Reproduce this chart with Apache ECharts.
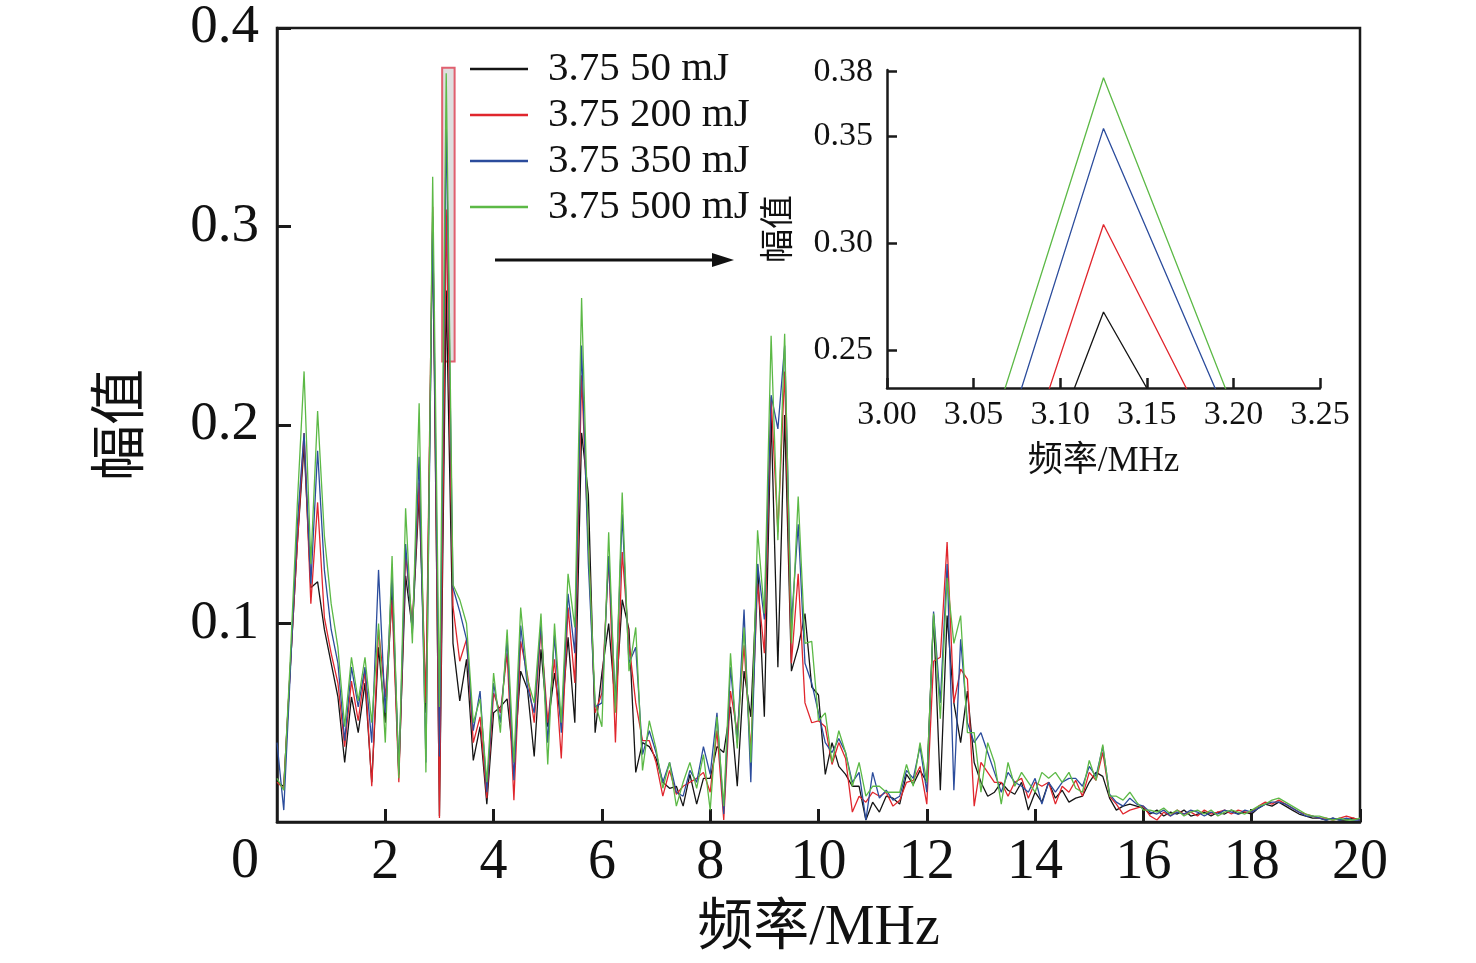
<!DOCTYPE html>
<html>
<head>
<meta charset="utf-8">
<script src="https://cdn.jsdelivr.net/npm/echarts@6/dist/echarts.min.js"></script>
<style>
  html, body { margin: 0; padding: 0; background: #fff; }
  #chart { width: 1476px; height: 963px; }
</style>
</head>
<body>
<div id="chart"></div>
<script>
// frequency grid, MHz (0 ~ 20, step 0.125)
const step = 0.125;
const freq = Array.from({ length: 161 }, (_, i) => i * step);

const names = ["3.75 50 mJ", "3.75 200 mJ", "3.75 350 mJ", "3.75 500 mJ"];
const colors = ["#141414", "#e0262d", "#2b4c9c", "#5cb946"];

// 50 mJ
const amp50 = [
  0.020,0.018,0.080,0.140,0.190,0.118,0.121,0.097,0.080,0.063,
  0.030,0.063,0.045,0.070,0.020,0.088,0.050,0.117,0.024,0.124,
  0.097,0.165,0.055,0.300,0.003,0.2677,0.090,0.061,0.082,0.031,
  0.048,0.009,0.055,0.058,0.062,0.030,0.076,0.067,0.033,0.087,
  0.048,0.075,0.050,0.093,0.050,0.196,0.165,0.045,0.075,0.100,
  0.058,0.112,0.097,0.025,0.040,0.038,0.032,0.020,0.017,0.018,
  0.008,0.024,0.009,0.022,0.022,0.038,0.035,0.058,0.018,0.076,
  0.053,0.130,0.053,0.205,0.078,0.205,0.076,0.088,0.105,0.068,
  0.064,0.024,0.040,0.028,0.024,0.018,0.018,0.001,0.010,0.005,
  0.013,0.012,0.009,0.024,0.019,0.026,0.020,0.104,0.016,0.104,
  0.060,0.040,0.066,0.030,0.020,0.013,0.015,0.020,0.016,0.014,
  0.020,0.006,0.015,0.010,0.020,0.012,0.016,0.010,0.012,0.013,
  0.020,0.025,0.023,0.012,0.006,0.008,0.009,0.008,0.007,0.004,
  0.006,0.003,0.005,0.004,0.006,0.003,0.004,0.005,0.003,0.005,
  0.004,0.006,0.004,0.005,0.004,0.007,0.009,0.008,0.010,0.008,
  0.006,0.004,0.003,0.002,0.002,0.001,0.002,0.001,0.001,0.002,
  0.001
];
// 200 mJ
const amp200 = [
  0.020,0.017,0.080,0.140,0.196,0.110,0.161,0.103,0.085,0.070,
  0.038,0.071,0.051,0.076,0.018,0.097,0.063,0.112,0.020,0.135,
  0.100,0.171,0.060,0.310,0.002,0.3086,0.1086,0.081,0.092,0.040,
  0.053,0.012,0.065,0.055,0.085,0.011,0.091,0.074,0.050,0.097,
  0.050,0.082,0.032,0.108,0.070,0.225,0.140,0.055,0.065,0.133,
  0.040,0.136,0.090,0.060,0.041,0.041,0.030,0.013,0.026,0.014,
  0.018,0.020,0.022,0.025,0.015,0.046,0.001,0.066,0.045,0.089,
  0.035,0.120,0.085,0.214,0.146,0.227,0.080,0.125,0.060,0.050,
  0.051,0.048,0.029,0.040,0.032,0.005,0.013,0.010,0.015,0.013,
  0.015,0.008,0.011,0.020,0.021,0.028,0.009,0.081,0.083,0.141,
  0.060,0.077,0.072,0.008,0.030,0.025,0.020,0.020,0.013,0.020,
  0.022,0.012,0.020,0.018,0.020,0.009,0.018,0.015,0.021,0.013,
  0.025,0.021,0.035,0.013,0.009,0.004,0.006,0.007,0.008,0.003,
  0.001,0.005,0.003,0.006,0.004,0.005,0.003,0.006,0.004,0.005,
  0.006,0.004,0.006,0.005,0.005,0.008,0.010,0.009,0.011,0.009,
  0.007,0.005,0.004,0.003,0.002,0.002,0.001,0.002,0.003,0.002,
  0.001
];
// 350 mJ
const amp350 = [
  0.040,0.006,0.078,0.150,0.196,0.120,0.187,0.127,0.097,0.080,
  0.041,0.078,0.058,0.078,0.040,0.127,0.055,0.125,0.025,0.140,
  0.095,0.184,0.030,0.305,0.033,0.3535,0.118,0.106,0.092,0.046,
  0.066,0.015,0.070,0.050,0.092,0.021,0.099,0.068,0.055,0.100,
  0.040,0.094,0.045,0.115,0.085,0.240,0.130,0.058,0.060,0.134,
  0.060,0.155,0.080,0.088,0.034,0.046,0.035,0.020,0.030,0.015,
  0.013,0.026,0.020,0.038,0.024,0.055,0.004,0.078,0.040,0.107,
  0.020,0.130,0.102,0.215,0.198,0.240,0.100,0.150,0.080,0.070,
  0.055,0.040,0.035,0.042,0.035,0.020,0.025,0.001,0.025,0.012,
  0.016,0.011,0.013,0.026,0.022,0.038,0.015,0.106,0.060,0.130,
  0.016,0.092,0.050,0.040,0.045,0.035,0.025,0.015,0.025,0.020,
  0.018,0.015,0.022,0.009,0.020,0.015,0.020,0.022,0.022,0.018,
  0.028,0.023,0.038,0.014,0.010,0.008,0.012,0.009,0.008,0.005,
  0.004,0.006,0.003,0.005,0.004,0.006,0.005,0.003,0.005,0.004,
  0.006,0.005,0.004,0.006,0.005,0.007,0.009,0.010,0.010,0.009,
  0.007,0.005,0.003,0.003,0.002,0.001,0.002,0.001,0.002,0.001,
  0.001
];
// 500 mJ
const amp500 = [
  0.022,0.016,0.085,0.160,0.227,0.130,0.207,0.144,0.110,0.088,
  0.048,0.083,0.061,0.083,0.050,0.100,0.040,0.134,0.022,0.158,
  0.090,0.211,0.025,0.325,0.058,0.3772,0.1195,0.112,0.100,0.050,
  0.062,0.020,0.075,0.045,0.097,0.030,0.108,0.072,0.060,0.105,
  0.029,0.100,0.050,0.125,0.098,0.264,0.140,0.060,0.048,0.146,
  0.055,0.166,0.076,0.098,0.026,0.051,0.037,0.017,0.030,0.008,
  0.020,0.030,0.017,0.034,0.006,0.053,0.008,0.085,0.037,0.098,
  0.030,0.147,0.105,0.245,0.142,0.246,0.090,0.164,0.090,0.091,
  0.051,0.055,0.030,0.046,0.035,0.018,0.030,0.013,0.018,0.018,
  0.015,0.015,0.015,0.029,0.018,0.040,0.020,0.105,0.052,0.123,
  0.090,0.104,0.045,0.045,0.015,0.040,0.030,0.009,0.030,0.018,
  0.025,0.020,0.015,0.025,0.022,0.025,0.020,0.025,0.017,0.015,
  0.031,0.021,0.039,0.013,0.013,0.011,0.015,0.010,0.006,0.006,
  0.005,0.007,0.004,0.006,0.003,0.005,0.006,0.004,0.006,0.003,
  0.005,0.006,0.005,0.004,0.006,0.008,0.009,0.011,0.012,0.010,
  0.008,0.006,0.004,0.003,0.003,0.002,0.001,0.002,0.001,0.001,
  0.002
];

const amps = [amp50, amp200, amp350, amp500];

// axis ticks
const mainXTicks = [0, 2, 4, 6, 8, 10, 12, 14, 16, 18, 20];
const insetYTicks = [0.25, 0.30, 0.35, 0.38];
const insetXRange = [3.00, 3.25];
const insetYRange = [0.2322, 0.3808];
const zoomBox = [[3.05, 0.232], [3.28, 0.380]];

const serif = "'Liberation Serif','Times New Roman','Noto Sans CJK SC',serif";
const axisColor = "#1a1a1a";

function pairs(vals) {
  return freq.map((f, i) => [f, vals[i]]);
}

const chart = echarts.init(document.getElementById("chart"), null, { renderer: "canvas" });

const series = [];
names.forEach((n, k) => {
  const s = {
    name: n,
    type: "line",
    xAxisIndex: 0,
    yAxisIndex: 0,
    data: pairs(amps[k]),
    showSymbol: false,
    symbol: "none",
    lineStyle: { color: colors[k], width: 1.3 },
    itemStyle: { color: colors[k] },
    z: 3 + k,
    animation: false
  };
  if (k === 3) {
    s.markArea = {
      silent: true,
      itemStyle: { color: "rgba(185,185,185,0.45)", borderColor: "#e0606f", borderWidth: 2 },
      data: [[{ coord: zoomBox[0] }, { coord: zoomBox[1] }]]
    };
  }
  series.push(s);
});
names.forEach((n, k) => {
  series.push({
    name: n,
    type: "line",
    xAxisIndex: 1,
    yAxisIndex: 1,
    data: pairs(amps[k]),
    showSymbol: false,
    symbol: "none",
    clip: true,
    lineStyle: { color: colors[k], width: 1.3 },
    itemStyle: { color: colors[k] },
    z: 3 + k,
    animation: false
  });
});

chart.setOption({
  animation: false,
  backgroundColor: "#fff",
  textStyle: { fontFamily: serif },
  legend: {
    data: names,
    orient: "vertical",
    left: 470,
    top: 47,
    padding: 0,
    itemWidth: 58,
    itemHeight: 2.5,
    itemGap: 2,
    icon: "rect",
    textStyle: { fontFamily: serif, fontSize: 41, color: "#111", lineHeight: 44, padding: [0, 0, 0, 15] }
  },
  grid: [
    { left: 277, right: 116, top: 28, bottom: 141, show: true, borderColor: axisColor, borderWidth: 2.5, containLabel: false },
    { left: 887, right: 156, top: 70, bottom: 575, containLabel: false }
  ],
  xAxis: [
    {
      type: "value", gridIndex: 0, min: 0, max: 20, interval: 2,
      name: "频率/MHz", nameLocation: "middle", nameGap: 79,
      nameTextStyle: { fontFamily: serif, fontSize: 56, color: "#111" },
      axisLine: { show: true, lineStyle: { color: axisColor, width: 2.5 } },
      axisTick: { show: true, inside: true, length: 13, lineStyle: { color: axisColor, width: 3 } },
      axisLabel: { showMinLabel: false, fontFamily: serif, fontSize: 56, color: "#111", margin: 13 },
      splitLine: { show: false }
    },
    {
      type: "value", gridIndex: 1, min: insetXRange[0], max: insetXRange[1], interval: 0.05,
      name: "频率/MHz", nameLocation: "middle", nameGap: 56,
      nameTextStyle: { fontFamily: serif, fontSize: 35, color: "#111" },
      axisLine: { show: true, lineStyle: { color: axisColor, width: 2.5 } },
      axisTick: { show: true, inside: true, length: 10, lineStyle: { color: axisColor, width: 2.5 } },
      axisLabel: { fontFamily: serif, fontSize: 34, color: "#111", margin: 10,
        formatter: v => v.toFixed(2) },
      splitLine: { show: false }
    }
  ],
  yAxis: [
    {
      type: "value", gridIndex: 0, min: 0, max: 0.4, interval: 0.1,
      name: "幅值", nameLocation: "middle", nameGap: 126,
      nameTextStyle: { fontFamily: serif, fontSize: 56, color: "#111" },
      axisLine: { show: true, lineStyle: { color: axisColor, width: 2.5 } },
      axisTick: { show: true, inside: true, length: 14, lineStyle: { color: axisColor, width: 3 } },
      axisLabel: { showMinLabel: false, fontFamily: serif, fontSize: 55, color: "#111", margin: 18,
        formatter: v => v.toFixed(1) },
      splitLine: { show: false }
    },
    {
      type: "value", gridIndex: 1, min: insetYRange[0], max: insetYRange[1],
      name: "幅值", nameLocation: "middle", nameGap: 90,
      nameTextStyle: { fontFamily: serif, fontSize: 34, color: "#111" },
      axisLine: { show: true, lineStyle: { color: axisColor, width: 2.5 } },
      axisTick: { show: true, inside: true, length: 10, customValues: insetYTicks, lineStyle: { color: axisColor, width: 2.5 } },
      axisLabel: { fontFamily: serif, fontSize: 34, color: "#111", margin: 14, customValues: insetYTicks,
        formatter: v => v.toFixed(2) },
      splitLine: { show: false }
    }
  ],
  graphic: [
    { type: "text", left: 231, top: 834, style: { text: String(mainXTicks[0]), font: "56px " + serif, fill: "#111" } },
    { type: "line", shape: { x1: 495, y1: 260, x2: 718, y2: 260 }, style: { stroke: "#111", lineWidth: 3 } },
    { type: "polygon", shape: { points: [[734, 260], [712, 253], [712, 267]] }, style: { fill: "#111" } }
  ],
  series: series
});
</script>
</body>
</html>
